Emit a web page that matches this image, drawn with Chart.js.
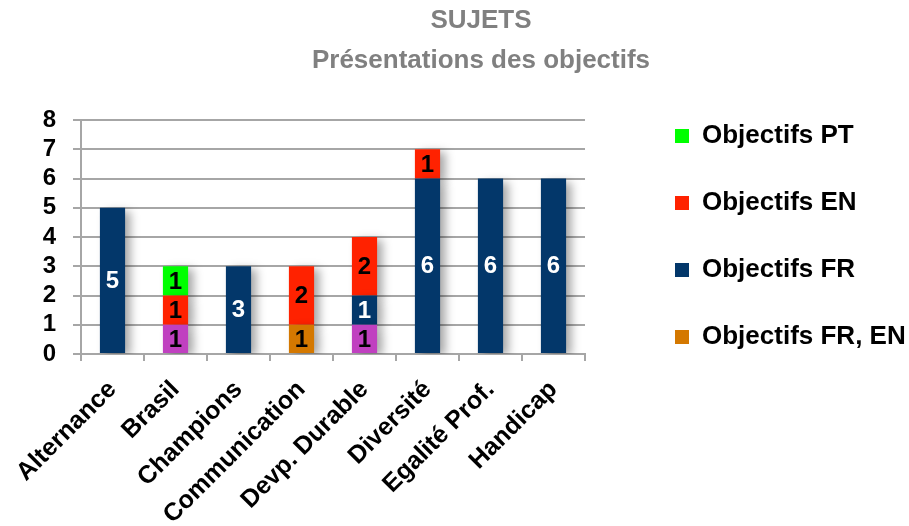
<!DOCTYPE html>
<html>
<head>
<meta charset="utf-8">
<script src="https://cdn.jsdelivr.net/npm/chart.js@4/dist/chart.umd.min.js"></script>
<style>
    html, body { margin: 0; padding: 0; background: #fff; }
    #wrap { width: 909px; height: 526px; position: relative; }
</style>
</head>
<body>
<div id="wrap"><canvas id="sujets"></canvas></div>
<script>
const categories = ['Alternance', 'Brasil', 'Champions', 'Communication', 'Devp. Durable', 'Diversité', 'Egalité Prof.', 'Handicap'];

// stacked from the bottom up
const autres = [0, 1, 0, 0, 1, 0, 0, 0];
const objectifsFrEn = [0, 0, 0, 1, 0, 0, 0, 0];
const objectifsFr = [5, 0, 3, 0, 1, 6, 6, 6];
const objectifsEn = [0, 1, 0, 2, 2, 1, 0, 0];
const objectifsPt = [0, 1, 0, 0, 0, 0, 0, 0];

const yTicks = [0, 1, 2, 3, 4, 5, 6, 7, 8];
const titleLines = ['SUJETS', 'Présentations des objectifs'];

const fontFamily = '"Liberation Sans", Arial, sans-serif';
const gridGray = '#a6a6a6';

const series = [
    { label: 'Autres objectifs', data: autres, color: '#c040c0', text: '#000', legend: false },
    { label: 'Objectifs FR, EN', data: objectifsFrEn, color: '#d47800', text: '#000', legend: true },
    { label: 'Objectifs FR', data: objectifsFr, color: '#03376a', text: '#fff', legend: true },
    { label: 'Objectifs EN', data: objectifsEn, color: '#ff2200', text: '#000', legend: true },
    { label: 'Objectifs PT', data: objectifsPt, color: '#00ff00', text: '#000', legend: true },
];

const barShadow = {
    id: 'barShadow',
    beforeDatasetsDraw(chart) {
        const ctx = chart.ctx;
        ctx.save();
        ctx.shadowColor = 'rgba(0, 0, 0, 0.35)';
        ctx.shadowBlur = 9;
        ctx.shadowOffsetX = 6;
        ctx.shadowOffsetY = 3;
    },
    afterDatasetsDraw(chart) {
        chart.ctx.restore();
    },
};

const segmentLabels = {
    id: 'segmentLabels',
    afterDatasetsDraw(chart) {
        const ctx = chart.ctx;
        ctx.save();
        ctx.font = `bold 24px ${fontFamily}`;
        ctx.textAlign = 'center';
        ctx.textBaseline = 'middle';
        chart.data.datasets.forEach((ds, i) => {
            chart.getDatasetMeta(i).data.forEach((bar, j) => {
                const v = ds.data[j];
                if (!v) {
                    return;
                }
                const { x, y } = bar.getCenterPoint();
                ctx.fillStyle = series[i].text;
                ctx.fillText(String(v), x, y + 1);
            });
        });
        ctx.restore();
    },
};

const twoLineTitle = {
    id: 'twoLineTitle',
    afterDraw(chart) {
        const ctx = chart.ctx;
        ctx.save();
        ctx.font = `bold 26px ${fontFamily}`;
        ctx.fillStyle = '#808080';
        ctx.textAlign = 'center';
        ctx.textBaseline = 'alphabetic';
        ctx.fillText(titleLines[0], 481, 28);
        ctx.fillText(titleLines[1], 481, 68);
        ctx.restore();
    },
};

new Chart(document.getElementById('sujets'), {
    type: 'bar',
    data: {
        labels: categories,
        datasets: series.map((s) => ({
            label: s.label,
            data: s.data,
            backgroundColor: s.color,
            borderWidth: 0,
            barPercentage: 0.4,
            categoryPercentage: 1,
        })),
    },
    options: {
        responsive: true,
        maintainAspectRatio: false,
        animation: false,
        layout: {
            // top padding only places the legend; the plot top comes from the y axis
            padding: { top: 82, left: 43, right: 0, bottom: 0 },
        },
        plugins: {
            title: { display: false },
            tooltip: { enabled: false },
            legend: {
                position: 'right',
                align: 'start',
                reverse: true,
                maxWidth: 275,
                labels: {
                    boxWidth: 14,
                    boxHeight: 14,
                    padding: 41,
                    color: '#000',
                    font: { family: fontFamily, size: 26, weight: 'bold' },
                    filter: (item) => series[item.datasetIndex].legend,
                },
            },
        },
        scales: {
            x: {
                stacked: true,
                grid: {
                    offset: true,
                    drawOnChartArea: false,
                    drawTicks: true,
                    tickLength: 7,
                    color: gridGray,
                    lineWidth: 2,
                },
                border: { display: true, color: gridGray, width: 2 },
                ticks: {
                    color: '#000',
                    font: { family: fontFamily, size: 25, weight: 'bold' },
                    maxRotation: 45,
                    minRotation: 45,
                    padding: 14,
                    autoSkip: false,
                },
                afterFit: (scale) => {
                    scale.height = 172;
                    scale.paddingLeft = 0;
                    scale.paddingRight = 0;
                },
            },
            y: {
                stacked: true,
                min: 0,
                max: 8,
                afterBuildTicks: (scale) => {
                    scale.ticks = yTicks.map((v) => ({ value: v }));
                },
                grid: {
                    color: gridGray,
                    lineWidth: 2,
                    tickLength: 8,
                },
                border: { display: true, color: gridGray, width: 2 },
                ticks: {
                    color: '#000',
                    padding: 17,
                    autoSkip: false,
                    font: { family: fontFamily, size: 24, weight: 'bold' },
                },
                afterFit: (scale) => {
                    scale.width = 38;
                    scale.paddingTop = 120;
                },
            },
            spacer: {
                type: 'linear',
                position: 'right',
                grid: { display: false },
                border: { display: false },
                ticks: { display: false },
                afterFit: (scale) => { scale.width = 49; },
            },
        },
    },
    plugins: [barShadow, segmentLabels, twoLineTitle],
});
</script>
</body>
</html>
